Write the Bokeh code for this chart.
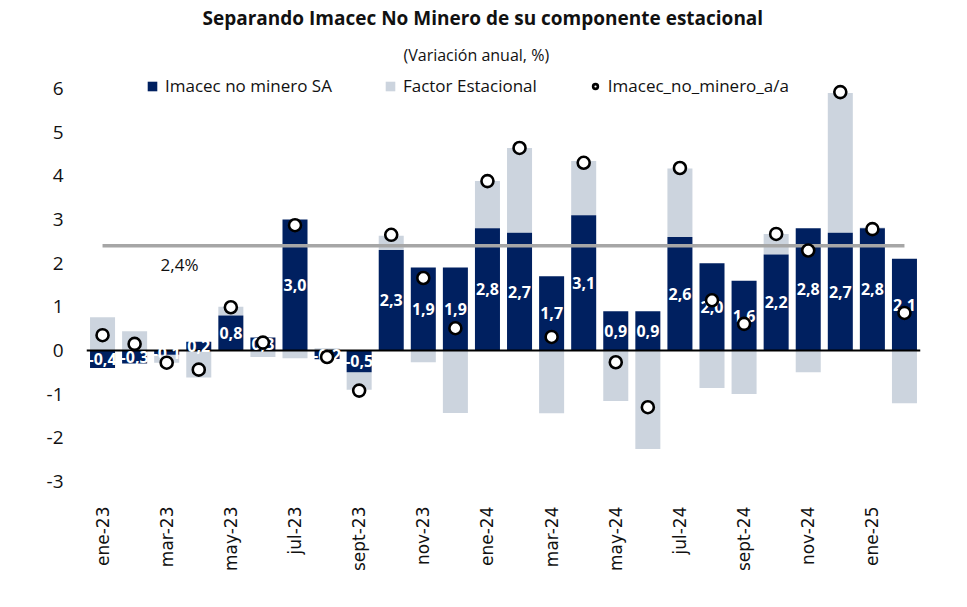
import numpy as np
from bokeh.plotting import figure
from bokeh.models import (ColumnDataSource, Title, Legend, LegendItem,
                          FixedTicker, Range1d)
from bokeh.core.properties import value
from bokeh.embed import file_html
from bokeh.resources import INLINE

# Monthly series, ene-23 .. feb-25 (annual % change)
months = ["ene-23", "feb-23", "mar-23", "abr-23", "may-23", "jun-23",
          "jul-23", "ago-23", "sept-23", "oct-23", "nov-23", "dic-23",
          "ene-24", "feb-24", "mar-24", "abr-24", "may-24", "jun-24",
          "jul-24", "ago-24", "sept-24", "oct-24", "nov-24", "dic-24",
          "ene-25", "feb-25"]

imacec_sa = [-0.4, -0.3, -0.1, 0.2, 0.8, 0.3, 3.0, -0.2, -0.5, 2.3, 1.9, 1.9,
             2.8, 2.7, 1.7, 3.1, 0.9, 0.9, 2.6, 2.0, 1.6, 2.2, 2.8, 2.7,
             2.8, 2.1]

factor_estacional = [0.76, 0.44, -0.18, -0.62, 0.20, -0.15, -0.18, 0.05,
                     -0.40, 0.33, -0.27, -1.43, 1.08, 1.94, -1.44, 1.24,
                     -1.16, -2.26, 1.57, -0.86, -1.00, 0.47, -0.50, 3.20,
                     0.02, -1.21]

imacec_aa = [0.35, 0.15, -0.28, -0.44, 0.99, 0.18, 2.87, -0.15, -0.92, 2.65,
             1.66, 0.51, 3.88, 4.64, 0.31, 4.30, -0.27, -1.30, 4.18, 1.15,
             0.61, 2.67, 2.29, 5.92, 2.78, 0.86]

promedio = 2.4
y_ticks = [-3, -2, -1, 0, 1, 2, 3, 4, 5, 6]

NAVY = "#002060"
LIGHT = "#CCD4DE"
FONT = "Open Sans"

x = np.arange(len(months))
sa = np.array(imacec_sa)
fe = np.array(factor_estacional)

# Excel-style stacking: the seasonal part sits on top of the SA bar when both
# share a sign, otherwise it grows from zero in the opposite direction.
same_sign = np.sign(sa) == np.sign(fe)
fe_bottom = np.where(same_sign, sa, 0.0)
fe_top = fe_bottom + fe

src = ColumnDataSource(dict(
    x=x, sa=sa, sa_mid=sa / 2.0,
    sa_lbl=[f"{v:.1f}".replace(".", ",") for v in imacec_sa],
    fe_bottom=fe_bottom, fe_top=fe_top, aa=np.array(imacec_aa),
))

p = figure(width=967, height=607, output_backend="svg", toolbar_location=None,
           x_range=Range1d(-0.5, len(months) - 0.5), y_range=Range1d(-3.3, 6.3),
           min_border_left=86, min_border_right=47, min_border_top=75,
           min_border_bottom=113)
p.outline_line_color = None
p.xgrid.visible = False
p.ygrid.visible = False
p.background_fill_color = "white"
p.border_fill_color = "white"

p.add_layout(Title(text="(Variación anual, %)", align="left",
                   text_font=FONT, text_font_size="16px",
                   text_font_style="normal", text_color="#111111",
                   offset=317, standoff=20), "above")
p.add_layout(Title(text="Separando Imacec No Minero de su componente estacional",
                   align="left", text_font=FONT, text_font_size="19px",
                   text_font_style="bold", text_color="#111111",
                   offset=116, standoff=2), "above")

r_fe = p.vbar(x="x", bottom="fe_bottom", top="fe_top", width=0.78,
              fill_color=LIGHT, line_color=None, source=src)
r_sa = p.vbar(x="x", bottom=0, top="sa", width=0.78,
              fill_color=NAVY, line_color=None, source=src)

p.hspan(y=[0], line_color="black", line_width=2)

p.line(x=[x[0], x[-1]], y=[promedio, promedio], line_color="#A6A6A6",
       line_width=3.5)
p.text(x=[2.4], y=[promedio - 0.42],
       text=[f"{promedio:.1f}".replace(".", ",") + "%"],
       text_font=value(FONT), text_font_size="17px", text_color="#111111",
       text_align="center", text_baseline="middle")

p.text(x="x", y="sa_mid", text="sa_lbl", source=src,
       text_font=value(FONT), text_font_size="16px", text_font_style="bold",
       text_color="white", text_align="center", text_baseline="middle")

r_aa = p.scatter(x="x", y="aa", source=src, size=12, marker="circle",
                 fill_color="white", line_color="black", line_width=2.6)

# axes
p.yaxis.ticker = FixedTicker(ticks=y_ticks)
p.yaxis.major_label_overrides = {t: str(t) for t in y_ticks}
p.yaxis.axis_line_color = None
p.yaxis.major_tick_line_color = None
p.yaxis.minor_tick_line_color = None
p.yaxis.major_label_standoff = 17
p.yaxis.major_label_text_font = FONT
p.yaxis.major_label_text_font_size = "19px"
p.yaxis.major_label_text_color = "#111111"

p.xaxis.ticker = FixedTicker(ticks=list(x[::2]))
p.xaxis.major_label_overrides = {int(i): months[i] for i in x[::2]}
p.xaxis.major_label_orientation = np.pi / 2
p.xaxis.axis_line_color = None
p.xaxis.major_tick_line_color = None
p.xaxis.minor_tick_line_color = None
p.xaxis.major_label_standoff = 6
p.xaxis.major_label_text_font = "DejaVu Sans"
p.xaxis.major_label_text_font_size = "17px"
p.xaxis.major_label_text_color = "#111111"

legend = Legend(items=[
    LegendItem(label="Imacec no minero SA", renderers=[r_sa]),
    LegendItem(label="Factor Estacional", renderers=[r_fe]),
    LegendItem(label="Imacec_no_minero_a/a", renderers=[r_aa]),
], orientation="horizontal", location=(60, 397), spacing=52, padding=0,
    margin=0, glyph_width=12, glyph_height=12, label_standoff=7,
    label_height=18, label_text_font=FONT, label_text_font_size="17px",
    label_text_color="#111111", border_line_color=None,
    background_fill_alpha=0)
p.add_layout(legend, "center")

open("out.html", "w").write(file_html(p, INLINE))
